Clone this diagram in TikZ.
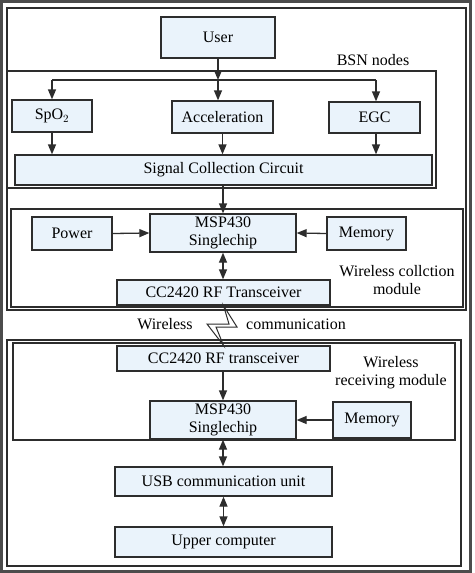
\documentclass[tikz,border=0pt]{standalone}
\usepackage{fontspec}
\setmainfont{Liberation Serif}
\usetikzlibrary{arrows.meta}
\definecolor{boxblue}{RGB}{234,243,251}
\definecolor{edge}{RGB}{45,45,45}
\begin{document}
\begin{tikzpicture}[x=1pt,y=-1pt,
  box/.style={draw=edge, fill=boxblue, line width=1.3pt, inner sep=0pt, align=center,
    font=\fontsize{16}{18}\selectfont},
  cont/.style={draw=edge, line width=1.3pt},
  lbl/.style={align=center, inner sep=0pt, font=\fontsize{16}{18}\selectfont},
  arr/.style={draw=edge, line width=1.3pt, -{Triangle[length=10pt,width=8pt]}},
  darr/.style={draw=edge, line width=1.3pt, {Triangle[length=10pt,width=8pt]}-{Triangle[length=10pt,width=8pt]}},
  ln/.style={draw=edge, line width=1.3pt}]
\useasboundingbox (0,0) rectangle (474,573);
\fill[white] (0,0) rectangle (474,573);
% frame and containers
\draw[draw=black!70, line width=3pt] (1.5,1.5) rectangle (470.5,571.5);
\draw[cont] (7,8) rectangle (466,310);
\draw[cont] (7,71) rectangle (436,188);
\draw[cont] (11,209) rectangle (463,307);
\draw[cont] (7,340) rectangle (461,566);
\draw[cont] (13,343) rectangle (455,440);
% nodes
\node[box, minimum width=114pt, minimum height=41pt] (user) at (218,37.5) {User};
\node[box, minimum width=80pt, minimum height=32pt] (spo2) at (52,116) {SpO$_2$};
\node[box, minimum width=101pt, minimum height=32pt] (acc) at (222.5,117) {Acceleration};
\node[box, minimum width=91pt, minimum height=31pt] (egc) at (374.5,117.5) {EGC};
\node[box, minimum width=417pt, minimum height=30pt] (scc) at (223.5,170) {Signal Collection Circuit};
\node[box, minimum width=80pt, minimum height=33pt] (power) at (72,233.5) {Power};
\node[box, minimum width=146pt, minimum height=38pt] (msp1) at (223,233) {MSP430\\Singlechip};
\node[box, minimum width=79pt, minimum height=33pt] (mem1) at (366.5,233.5) {Memory};
\node[box, minimum width=213pt, minimum height=25pt] (cc1) at (223.5,292.5) {CC2420 RF Transceiver};
\node[box, minimum width=213pt, minimum height=25pt] (cc2) at (223.5,358.5) {CC2420 RF transceiver};
\node[box, minimum width=146pt, minimum height=38pt] (msp2) at (223,420) {MSP430\\Singlechip};
\node[box, minimum width=78pt, minimum height=36pt] (mem2) at (372,420) {Memory};
\node[box, minimum width=217pt, minimum height=29pt] (usb) at (223.5,481.5) {USB communication unit};
\node[box, minimum width=217pt, minimum height=30pt] (upc) at (223.5,542) {Upper computer};
% labels
\node[lbl] (bsn) at (373,60) {BSN nodes};
\node[lbl] (wcm) at (397,280) {Wireless collction\\module};
\node[lbl] (wl) at (165,324) {Wireless};
\node[lbl] (cm) at (296,324) {communication};
\node[lbl] (wrm) at (391,373) {Wireless\\receiving module};
% connectors
\coordinate (j) at (218,80);
\coordinate (jl) at (52,80);
\coordinate (jr) at (376,80);
\draw[arr] (user.south) -- (j);
\draw[ln] (jl) -- (jr);
\draw[arr] (jl) -- (spo2.north);
\draw[arr] (j) -- (j |- acc.north);
\draw[arr] (jr) -- (jr |- egc.north);
\draw[arr] (spo2.south) -- (spo2.south |- scc.north);
\draw[arr] (acc.south) -- (acc.south |- scc.north);
\draw[arr] (egc.south -| jr) -- (jr |- scc.north);
\draw[arr] (scc.south -| msp1.north) -- (msp1.north);
\draw[arr] (power.east) -- (msp1.west);
\draw[arr] (mem1.west) -- (msp1.east);
\draw[darr] (msp1.south) -- (msp1.south |- cc1.north);
\draw[arr] (cc2.south -| msp2.north) -- (msp2.north);
\draw[arr] (mem2.west) -- (msp2.east);
\draw[darr] (msp2.south) -- (msp2.south |- usb.north);
\draw[darr] (usb.south -| upc.north) -- (upc.north);
% lightning between the transceivers
\draw[draw=edge, line width=1pt, line join=miter]
  (cc1.south) -- (237,327) -- (216,327) -- (cc2.north) -- (207,324) -- (229,324) -- cycle;
\end{tikzpicture}
\end{document}
